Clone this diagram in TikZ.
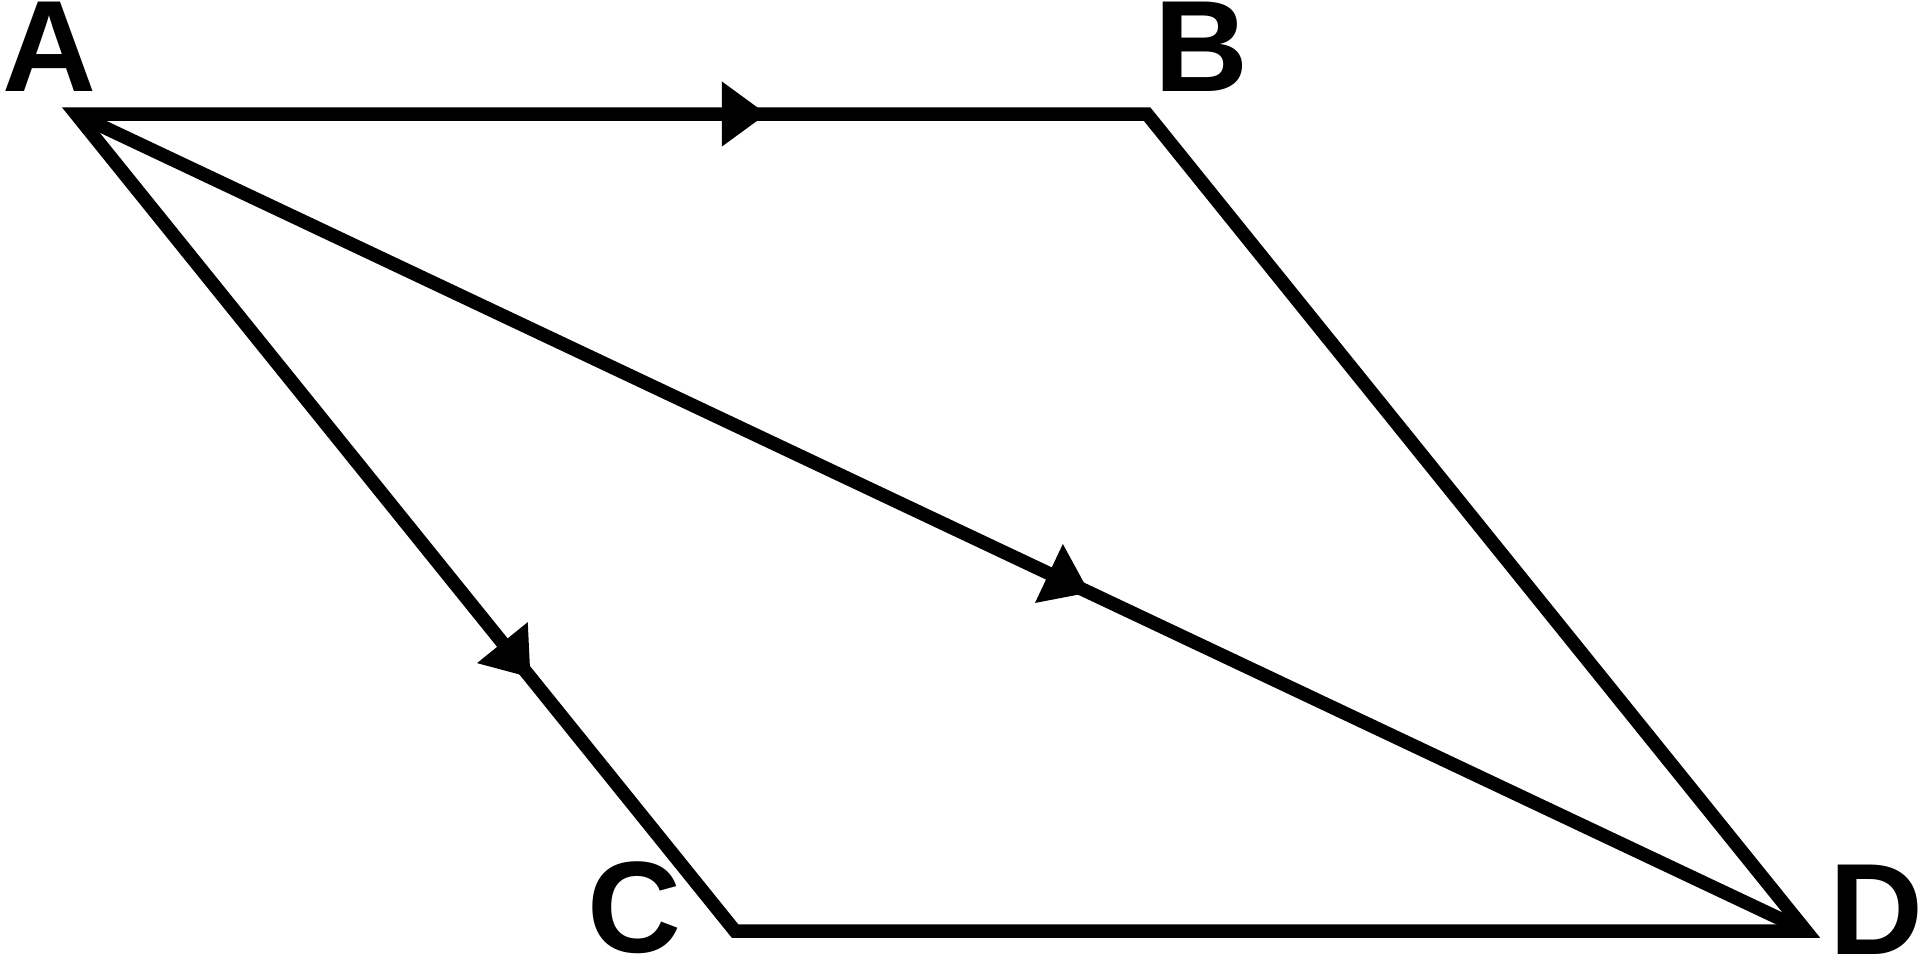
\documentclass[tikz,border=0pt]{standalone}
\usepackage{fontspec}
\setmainfont{Liberation Sans}
\usetikzlibrary{arrows.meta,decorations.markings}

\tikzset{
	side/.style={line width=1.35mm, line join=miter},
	tipat/.style={decoration={markings, mark=at position #1 with {\arrow{Triangle[length=4.5mm, width=6.2mm]}}}, postaction={decorate}},
	corner/.style={inner sep=0pt, font=\fontsize{37}{42}\selectfont\bfseries}
}

\begin{document}
\begin{tikzpicture}
			\useasboundingbox (0,0) rectangle (19.2,-9.6);
			\coordinate (A) at (0.76,-1.14);
			\coordinate (B) at (11.47,-1.14);
			\coordinate (C) at (7.35,-9.31);
			\coordinate (D) at (18.06,-9.31);
			\node[corner] (labelA) at (0.49,-0.47) {A};
			\node[corner] (labelB) at (12.01,-0.47) {B};
			\node[corner] (labelC) at (6.34,-9.08) {C};
			\node[corner] (labelD) at (18.76,-9.10) {D};
			\draw[side] (A) -- (B) -- (D) -- (C) -- cycle;
			\draw[side] (A) -- (D);
			\path[side, tipat=0.645] (A) -- (B);
			\path[side, tipat=0.69] (A) -- (C);
			\path[side, tipat=0.586] (A) -- (D);
		\end{tikzpicture}
\end{document}
